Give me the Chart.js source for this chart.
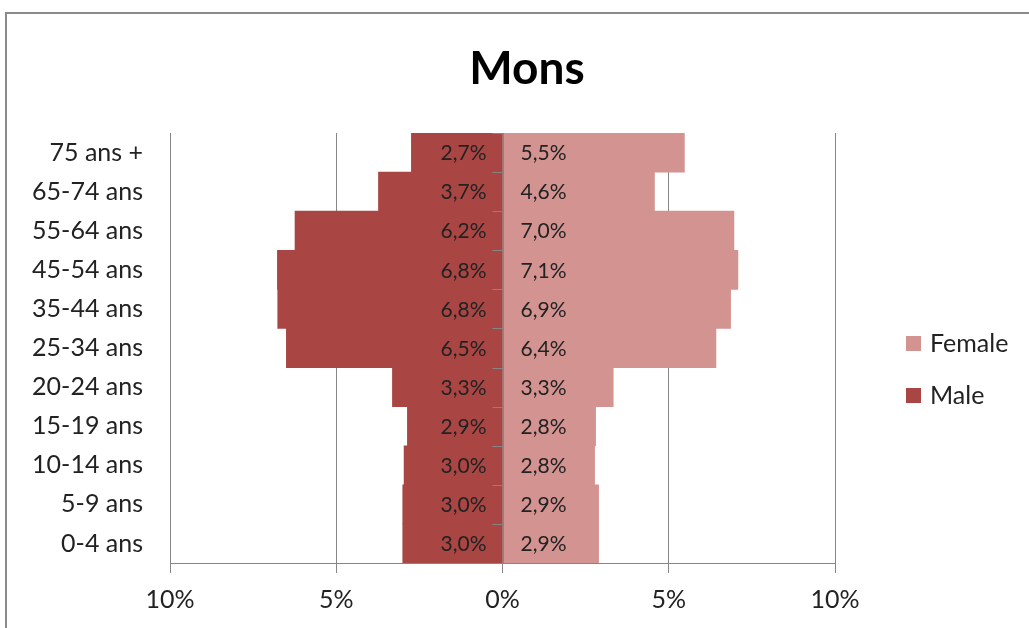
<!DOCTYPE html>
<html>
<head>
<meta charset="utf-8">
<script src="https://cdn.jsdelivr.net/npm/chart.js@4.4.0/dist/chart.umd.min.js"></script>
<style>
    html, body { margin: 0; padding: 0; background: #fff; overflow: hidden; }
    #wrap { position: relative; width: 1029px; height: 628px; }
    #frame {
        position: absolute; left: 5px; top: 12px; width: 1100px; height: 700px;
        border: 2px solid #8a8a8a; box-sizing: border-box;
    }
    #pyramid { position: absolute; left: 0; top: 0; }
</style>
</head>
<body>
<div id="wrap">
    <div id="frame"></div>
    <canvas id="pyramid" width="1029" height="628"></canvas>
</div>
<script>
    // age groups, top to bottom
    const ageGroups = ['75 ans +', '65-74 ans', '55-64 ans', '45-54 ans', '35-44 ans',
        '25-34 ans', '20-24 ans', '15-19 ans', '10-14 ans', '5-9 ans', '0-4 ans'];
    // share of population (%)
    const male = [2.74, 3.73, 6.24, 6.77, 6.76, 6.5, 3.31, 2.86, 2.96, 3.0, 3.0];
    const female = [5.47, 4.57, 6.96, 7.08, 6.86, 6.42, 3.33, 2.8, 2.77, 2.89, 2.89];
    const xTicks = [-10, -5, 0, 5, 10];
    const chartTitle = 'Mons';

    const MALE_COLOR = '#a94543';
    const FEMALE_COLOR = '#d39391';
    const AXIS_COLOR = '#868686';
    const TEXT_COLOR = '#222222';
    const FONT = 'Lato, "DejaVu Sans", sans-serif';

    function pct(v) {
        return Math.abs(v).toFixed(1).replace('.', ',') + '%';
    }

    const sets = [];
    sets.push({
        label: 'Male',
        data: male.map(v => -v),
        backgroundColor: MALE_COLOR,
        borderWidth: 0,
        categoryPercentage: 1.0,
        barPercentage: 1.0
    });
    sets.push({
        label: 'Female',
        data: female,
        backgroundColor: FEMALE_COLOR,
        borderWidth: 0,
        categoryPercentage: 1.0,
        barPercentage: 1.0
    });

    // title, centre axis, value labels and legend, drawn excel-style
    const decor = {
        id: 'pyramid_decor',
        afterDatasetsDraw: (chart) => {
            const ctx = chart.ctx;
            const area = chart.chartArea;
            const x0 = chart.scales.x.getPixelForValue(0);
            const n = ageGroups.length;
            const step = (area.bottom - area.top) / n;

            ctx.save();
            ctx.strokeStyle = AXIS_COLOR;
            ctx.lineWidth = 1;
            ctx.beginPath();
            ctx.moveTo(Math.round(x0) + 0.5, area.top);
            ctx.lineTo(Math.round(x0) + 0.5, area.bottom);
            for (let i = 0; i <= n; i++) {
                const y = Math.round(area.top + i * step) + 0.5;
                ctx.moveTo(x0 - 10, y);
                ctx.lineTo(x0, y);
            }
            ctx.stroke();

            // value labels
            ctx.fillStyle = TEXT_COLOR;
            ctx.font = '21px ' + FONT;
            ctx.textBaseline = 'middle';
            chart.data.datasets.forEach((ds, di) => {
                const meta = chart.getDatasetMeta(di);
                meta.data.forEach((bar, i) => {
                    const txt = pct(ds.data[i]);
                    if (ds.data[i] < 0) {
                        ctx.textAlign = 'right';
                        ctx.fillText(txt, x0 - 16, bar.y + 1);
                    } else {
                        ctx.textAlign = 'left';
                        ctx.fillText(txt, x0 + 18, bar.y + 1);
                    }
                });
            });

            // title
            ctx.fillStyle = '#000';
            ctx.font = 'bold 46px ' + FONT;
            ctx.textAlign = 'center';
            ctx.fillText(chartTitle, 527, 69);

            // legend: Female above Male
            const items = chart.data.datasets.slice().reverse();
            ctx.font = '25px ' + FONT;
            ctx.textAlign = 'left';
            items.forEach((ds, i) => {
                const cy = 343 + i * 52;
                ctx.fillStyle = ds.backgroundColor;
                ctx.fillRect(906, cy - 7, 15, 15);
                ctx.fillStyle = TEXT_COLOR;
                ctx.fillText(ds.label, 930, cy + 1);
            });
            ctx.restore();
        }
    };

    const options = {
        indexAxis: 'y',
        responsive: false,
        animation: false,
        layout: { padding: { top: 133, right: 194, bottom: 0, left: 0 } },
        plugins: {
            legend: { display: false },
            title: { display: false },
            tooltip: { enabled: false }
        },
        scales: {
            x: {
                stacked: true,
                min: -10,
                max: 10,
                afterBuildTicks: (scale) => {
                    scale.ticks = xTicks.map(v => ({ value: v }));
                },
                afterFit: (scale) => { scale.height = 65; },
                grid: {
                    color: AXIS_COLOR,
                    lineWidth: 1,
                    tickLength: 10,
                    drawTicks: true
                },
                border: { display: true, color: AXIS_COLOR },
                ticks: {
                    padding: 12,
                    color: TEXT_COLOR,
                    font: { family: FONT, size: 25 },
                    callback: (v) => Math.abs(v) + '%'
                }
            },
            y: {
                stacked: true,
                afterFit: (scale) => { scale.width = 170; },
                grid: { display: false, drawTicks: false },
                border: { display: false },
                ticks: {
                    padding: 27,
                    color: TEXT_COLOR,
                    font: { family: FONT, size: 25 }
                }
            }
        }
    };

    const ctx = document.getElementById('pyramid');
    new Chart(ctx, {
        type: 'bar',
        data: { labels: ageGroups, datasets: sets },
        options: options,
        plugins: [decor]
    });
</script>
</body>
</html>
